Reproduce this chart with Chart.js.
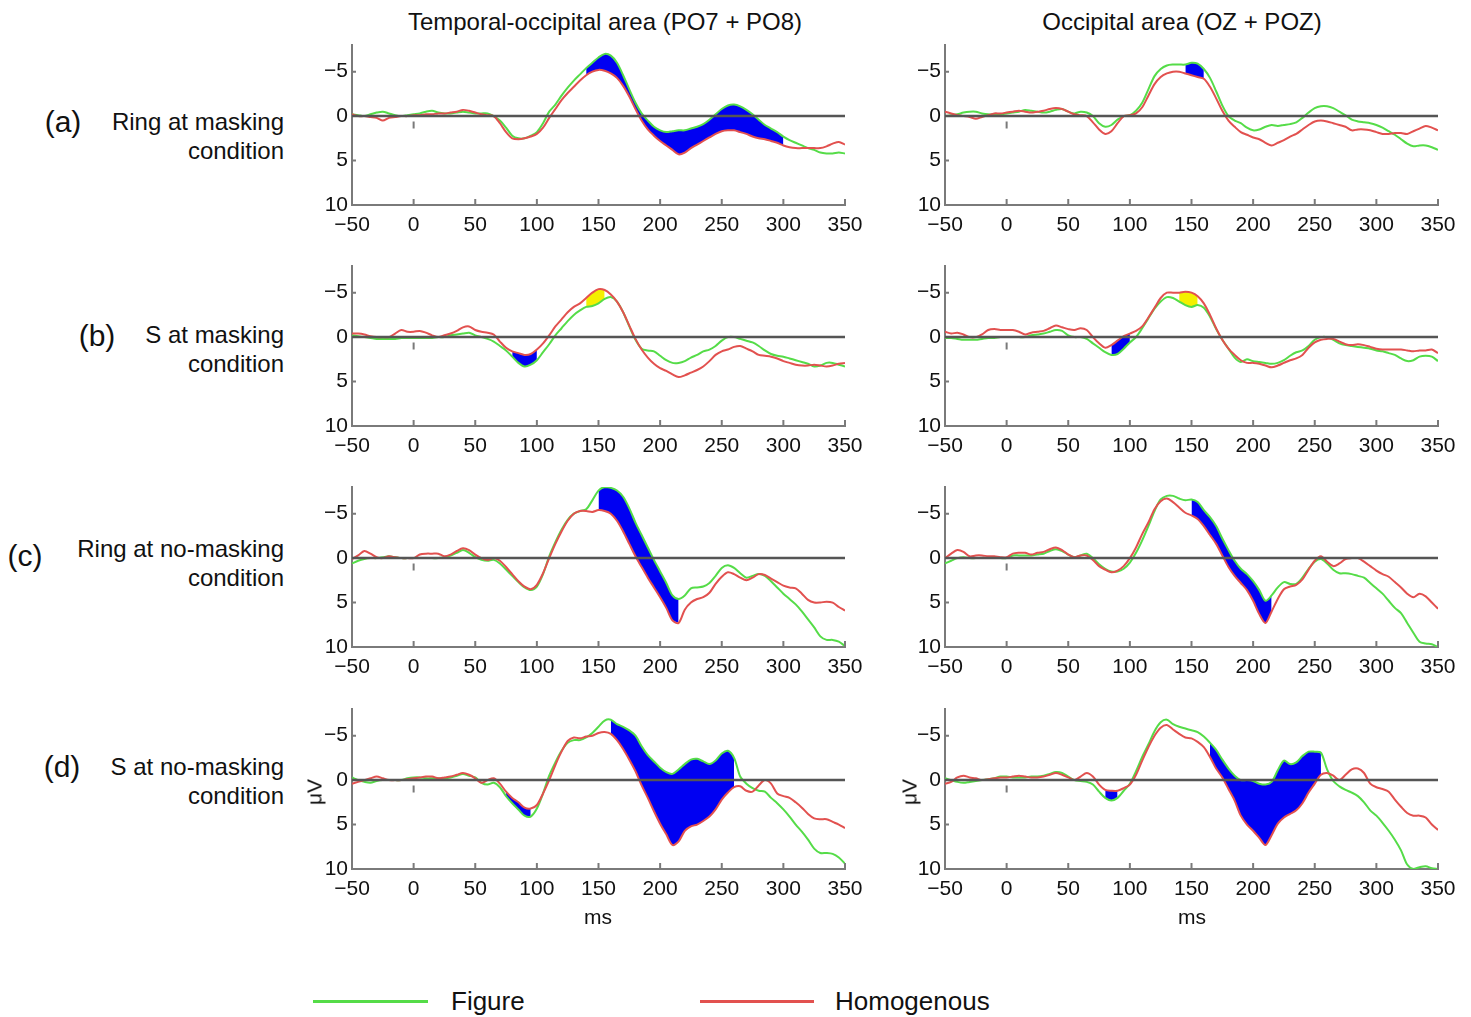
<!DOCTYPE html>
<html>
<head>
<meta charset="utf-8">
<script src="https://cdn.jsdelivr.net/npm/chart.js@4.4.1/dist/chart.umd.min.js"></script>
<style>
  body { margin: 0; background: #fff; }
  #fig { position: relative; width: 1471px; height: 1017px; background: #fff; overflow: hidden;
         font-family: "Liberation Sans", Arial, Helvetica, sans-serif; color: #111; }
  #fig canvas { position: absolute; }
  .txt { position: absolute; white-space: nowrap; line-height: 1; }
</style>
</head>
<body>
<div id="fig"></div>
<script>
// Eixo temporal (ms) e ticks
const timesMs = [-50,-45,-40,-35,-30,-25,-20,-15,-10,-5,0,5,10,15,20,25,30,35,40,45,
  50,55,60,65,70,75,80,85,90,95,100,105,110,115,120,125,130,135,140,145,
  150,155,160,165,170,175,180,185,190,195,200,205,210,215,220,225,230,235,240,245,
  250,255,260,265,270,275,280,285,290,295,300,305,310,315,320,325,330,335,340,345,350];
const xTicks = [-50, 0, 50, 100, 150, 200, 250, 300, 350];
const yTicks = [-5, 0, 5, 10];
const onsetMark = [0.6, 1.4];

// (a) Ring at masking condition
const aLeftFig = [-0.2,-0.1,0,-0.2,-0.4,-0.5,-0.3,-0.1,0,-0.1,
  -0.2,-0.3,-0.5,-0.6,-0.4,-0.3,-0.3,-0.4,-0.5,-0.4,
  -0.3,-0.3,-0.3,0,0.5,1.3,2.2,2.5,2.5,2.2,
  1.8,0.8,-0.5,-1.3,-2.3,-3.2,-4.0,-4.7,-5.4,-6.0,
  -6.6,-7.0,-6.8,-6.0,-4.6,-3.0,-1.5,-0.3,0.5,1.2,
  1.6,1.8,1.7,1.6,1.6,1.4,1.2,0.9,0.4,-0.2,
  -0.8,-1.2,-1.3,-1.1,-0.7,-0.2,0.4,1.0,1.4,1.8,
  2.3,2.7,3.0,3.3,3.6,3.8,4.1,4.2,4.2,4.1,
  4.2];
const aLeftHom = [-0.2,0,0,0.1,0.2,0.5,0.2,0.1,0,0,
  -0.1,-0.1,-0.2,-0.2,-0.3,-0.3,-0.4,-0.5,-0.7,-0.6,
  -0.4,-0.2,-0.1,0,0.8,1.8,2.5,2.6,2.5,2.3,
  2.0,1.3,0.2,-0.8,-1.8,-2.6,-3.3,-4.0,-4.6,-5.0,
  -5.2,-5.1,-4.8,-4.3,-3.4,-2.2,-0.8,0.5,1.5,2.2,
  2.8,3.3,3.8,4.3,4.1,3.6,3.2,2.8,2.4,2.0,
  1.7,1.6,1.6,1.8,2.0,2.3,2.5,2.6,2.8,3.0,
  3.3,3.5,3.6,3.6,3.6,3.6,3.6,3.4,3.1,2.9,
  3.2];
const aRightFig = [0,-0.1,-0.2,-0.4,-0.5,-0.5,-0.3,-0.2,-0.2,-0.2,
  -0.3,-0.4,-0.5,-0.7,-0.6,-0.5,-0.4,-0.5,-0.7,-0.8,
  -0.5,-0.3,-0.5,-0.4,0,0.8,1.2,1.0,0.4,0,
  -0.1,-0.6,-1.5,-3.0,-4.5,-5.3,-5.7,-5.8,-5.8,-5.8,
  -6.0,-5.9,-5.3,-4.3,-2.8,-1.2,0,0.5,0.8,1.3,
  1.6,1.5,1.2,1.0,1.1,1.0,0.9,0.7,0.2,-0.4,
  -0.9,-1.1,-1.1,-0.9,-0.5,-0.1,0.4,0.6,0.7,0.8,
  1.0,1.3,1.7,2.1,2.6,3.1,3.4,3.3,3.3,3.5,
  3.8];
const aRightHom = [-0.5,-0.3,-0.1,0,0.1,0.3,0.1,-0.1,-0.3,-0.3,
  -0.4,-0.5,-0.6,-0.5,-0.4,-0.5,-0.6,-0.8,-0.9,-0.8,
  -0.5,-0.2,-0.1,0,0.7,1.5,2.0,1.7,0.8,0,
  -0.1,-0.3,-1.0,-2.3,-3.6,-4.4,-4.8,-5.0,-5.0,-4.8,
  -4.6,-4.4,-4.2,-3.3,-2.0,-0.6,0.5,1.2,1.8,2.1,
  2.4,2.6,3.0,3.3,3.0,2.7,2.3,2.0,1.5,1.0,
  0.6,0.5,0.6,0.8,1.0,1.2,1.6,1.5,1.5,1.6,
  1.8,2.0,2.0,1.9,1.9,2.0,1.7,1.4,1.1,1.3,
  1.6];

// (b) S at masking condition
const bLeftFig = [-0.2,-0.1,0,0.1,0.2,0.2,0.2,0.2,0.1,0.1,
  0.1,0.1,0.1,0.1,0,0,-0.2,-0.3,-0.4,-0.5,
  -0.2,0,0.2,0.5,1.0,1.5,2.2,2.9,3.3,3.1,
  2.6,1.7,0.8,-0.2,-1.0,-1.8,-2.5,-3.0,-3.4,-3.5,
  -3.8,-4.3,-4.5,-4.0,-2.8,-1.2,0.3,1.3,1.5,1.6,
  2.1,2.6,2.9,2.9,2.7,2.3,2.0,1.6,1.4,1.0,
  0.4,0,0,0.2,0.4,0.6,1.0,1.5,1.9,2.1,
  2.2,2.4,2.6,2.8,3.0,3.3,3.2,2.9,2.9,3.1,
  3.3];
const bLeftHom = [-0.4,-0.4,-0.3,-0.1,0,0,0,-0.4,-0.8,-0.6,
  -0.6,-0.7,-0.5,-0.2,0,-0.2,-0.4,-0.7,-1.1,-1.2,
  -0.8,-0.6,-0.5,-0.3,0.5,1.2,1.6,1.8,2.0,1.9,
  1.4,0.7,-0.2,-1.2,-2.0,-2.8,-3.4,-3.8,-4.4,-5.0,
  -5.4,-5.3,-4.8,-4.0,-2.8,-1.3,0.2,1.4,2.3,3.0,
  3.5,3.8,4.2,4.5,4.3,4.0,3.7,3.3,2.7,2.0,
  1.6,1.4,1.1,1.0,1.3,1.6,2.0,2.1,2.2,2.4,
  2.7,2.9,3.1,3.2,3.2,3.1,3.2,3.3,3.2,3.0,
  2.9];
const bRightFig = [0.1,0.1,0.2,0.3,0.3,0.3,0.2,0.1,0.1,0,
  0,0,0,0,-0.2,-0.3,-0.4,-0.6,-0.8,-0.7,
  -0.2,0,0,0.2,0.7,1.2,1.7,2.0,1.9,1.3,
  0.6,0,-1.0,-2.1,-3.2,-4.0,-4.5,-4.4,-4.0,-3.6,
  -3.4,-3.6,-3.3,-2.3,-0.9,0.3,1.3,2.3,2.8,2.5,
  2.7,2.8,2.9,3.0,2.9,2.6,2.1,1.7,1.5,1.0,
  0.3,0,0,0.3,0.7,0.9,1.0,1.1,1.2,1.3,
  1.5,1.6,1.8,2.0,2.4,2.7,2.6,2.2,2.1,2.2,
  2.7];
const bRightHom = [-0.6,-0.4,-0.5,-0.3,0,0,-0.3,-0.8,-0.9,-0.8,
  -0.8,-0.8,-0.6,-0.3,-0.5,-0.6,-0.7,-1.0,-1.3,-1.1,
  -0.9,-0.8,-1.0,-0.8,0,0.7,1.2,0.9,0.4,-0.1,
  -0.4,-0.7,-1.2,-2.2,-3.3,-4.4,-5.0,-5.0,-5.0,-5.1,
  -5.0,-4.6,-3.8,-2.5,-1.0,0.3,1.3,2.0,2.6,2.9,
  2.9,3.0,3.2,3.4,3.2,2.9,2.6,2.4,2.0,1.2,
  0.6,0.3,0.2,0.2,0.5,0.8,0.9,0.8,0.9,1.1,
  1.3,1.4,1.4,1.4,1.4,1.5,1.6,1.5,1.5,1.4,
  1.8];

// (c) Ring at no-masking condition
const cLeftFig = [0.6,0.3,0.1,0,0,-0.1,-0.2,-0.1,0,0,
  0,0,0,0,0,-0.1,-0.3,-0.6,-0.9,-0.6,
  -0.1,0.2,0.3,0.2,0.6,1.3,2.0,2.7,3.3,3.6,
  3.2,1.8,-0.2,-1.8,-3.2,-4.3,-5.0,-5.3,-5.5,-6.5,
  -7.6,-8.0,-7.9,-7.6,-6.9,-5.6,-4.0,-2.6,-1.2,0.2,
  1.5,2.8,4.2,4.6,4.2,3.4,3.3,3.2,2.8,2.0,
  1.1,0.8,1.1,1.7,2.2,2.0,1.8,2.0,2.6,3.3,
  4.0,4.6,5.2,6.0,6.9,7.8,8.8,9.2,9.2,9.4,
  9.9];
const cLeftHom = [0.1,-0.3,-0.8,-0.5,-0.1,0,-0.2,-0.1,0,0,
  0,-0.4,-0.5,-0.5,-0.5,-0.2,-0.4,-0.8,-1.1,-0.9,
  -0.4,0,0.2,0,0.3,1.0,1.8,2.6,3.2,3.5,
  3.0,1.7,0,-1.6,-3.0,-4.2,-5.0,-5.3,-5.3,-5.2,
  -5.4,-5.3,-5.0,-4.2,-3.0,-1.6,-0.2,1.0,2.2,3.3,
  4.4,5.6,7.0,7.3,5.8,5.0,4.6,4.4,3.9,2.9,
  2.1,1.6,1.8,2.2,2.5,2.2,1.8,1.9,2.3,2.7,
  3.1,3.3,3.4,4.0,4.7,5.0,5.0,4.9,5.0,5.5,
  5.9];
const cRightFig = [0.6,0.3,0,-0.1,0,0,0,0,0,0,
  0,-0.3,-0.3,-0.3,-0.3,-0.4,-0.5,-0.8,-1.0,-0.8,
  -0.4,-0.1,-0.3,-0.5,0,0.7,1.2,1.5,1.5,1.2,
  0.5,-0.6,-2.0,-3.6,-5.3,-6.6,-7.0,-7.0,-6.7,-6.5,
  -6.6,-6.3,-5.4,-4.6,-3.6,-2.2,-0.9,0.3,1.2,1.8,
  2.6,3.6,4.8,4.2,3.3,2.7,2.9,2.9,2.2,1.2,
  0.4,0.1,0.6,1.3,1.7,1.7,1.8,2.0,2.2,2.8,
  3.4,4.0,4.8,5.6,6.2,7.3,8.4,9.4,9.6,9.7,
  10.0];
const cRightHom = [0,-0.5,-0.9,-0.7,-0.2,-0.3,-0.3,-0.2,-0.2,-0.1,
  -0.1,-0.5,-0.6,-0.6,-0.4,-0.6,-0.7,-1.0,-1.2,-0.9,
  -0.4,-0.1,-0.3,-0.3,0.2,0.9,1.3,1.6,1.4,0.9,
  0,-1.2,-2.7,-4.0,-5.5,-6.4,-6.7,-6.3,-5.7,-5.1,
  -4.8,-4.4,-3.6,-2.6,-1.6,-0.3,1.0,2.0,2.8,3.6,
  4.8,6.3,7.3,6.0,4.6,3.5,3.2,3.0,2.4,1.3,
  0.3,-0.2,0.4,0.9,0.6,0.1,0,0,0.4,0.9,
  1.4,1.8,2.1,2.7,3.3,4.0,4.4,4.0,4.3,5.0,
  5.7];

// (d) S at no-masking condition
const dLeftFig = [-0.3,0,0.2,0.3,0.1,0,0,0,0,-0.2,
  -0.3,-0.3,-0.2,-0.2,-0.2,-0.2,-0.3,-0.5,-0.7,-0.5,
  -0.3,0.3,0.5,0.3,0.8,1.8,2.6,3.3,4.0,4.1,
  3.2,1.5,-0.5,-2.0,-3.3,-4.2,-4.5,-4.5,-4.8,-5.3,
  -6.0,-6.7,-6.8,-6.3,-6.0,-5.6,-5.0,-3.8,-2.8,-2.1,
  -1.4,-0.9,-0.7,-1.2,-1.8,-2.3,-2.4,-2.1,-1.8,-2.2,
  -3.0,-3.3,-2.5,-0.4,0.4,0.9,1.2,1.3,2.0,2.6,
  3.3,4.1,5.0,5.8,6.7,7.7,8.2,8.2,8.3,8.7,
  9.4];
const dLeftHom = [0.4,0.2,0,-0.2,-0.4,-0.2,0,0,0,-0.1,
  -0.2,-0.3,-0.4,-0.4,-0.2,-0.3,-0.4,-0.6,-0.8,-0.6,
  -0.2,0.3,0,-0.2,0.4,1.3,2.0,2.5,3.1,3.2,
  2.8,1.5,0,-1.7,-3.2,-4.4,-4.8,-4.7,-4.9,-5.0,
  -5.3,-5.4,-5.2,-4.5,-3.5,-2.3,-1.0,0.6,2.0,3.5,
  4.9,6.1,7.3,6.9,5.7,5.2,5.0,4.6,4.1,3.3,
  2.2,1.4,0.8,0.7,1.2,1.3,0.6,0,0.4,1.5,
  1.8,2.0,2.5,3.1,3.8,4.3,4.4,4.4,4.7,5.0,
  5.4];
const dRightFig = [-0.2,0,0.2,0.3,0.2,0.1,0,-0.1,-0.2,-0.4,
  -0.4,-0.3,-0.3,-0.3,-0.4,-0.4,-0.5,-0.7,-0.9,-0.8,
  -0.4,0,0.1,0.2,0.5,1.3,2.0,2.3,2.0,1.2,
  0.4,-1.0,-2.6,-4.0,-5.5,-6.5,-6.8,-6.3,-6.0,-5.8,
  -5.6,-5.4,-4.9,-4.2,-3.4,-2.3,-1.3,-0.5,0,0,
  0.1,0.4,0.5,0.2,-1.1,-2.2,-1.8,-2.0,-2.7,-3.2,
  -3.2,-3.1,-1.2,0.1,0.7,1.1,1.4,1.8,2.5,3.4,
  4.0,4.8,5.7,6.7,7.9,9.5,10,9.8,9.7,9.9,
  10];
const dRightHom = [0.4,0.2,-0.3,-0.5,-0.3,-0.2,0,-0.1,-0.2,-0.3,
  -0.3,-0.4,-0.5,-0.4,-0.3,-0.3,-0.4,-0.6,-0.8,-0.6,
  -0.3,0,-0.4,-0.8,-0.4,0.5,1.1,1.2,1.2,0.9,
  0.5,-0.6,-2.2,-3.7,-5.0,-5.9,-6.2,-5.7,-5.2,-4.8,
  -4.7,-4.3,-3.7,-2.6,-1.3,-0.3,1.0,2.3,4.0,5.0,
  5.7,6.5,7.3,6.2,4.9,4.2,3.8,3.4,2.6,1.4,
  0.4,-0.6,-0.8,-0.5,0,-0.6,-1.2,-1.3,-0.8,0.4,
  0.8,1.0,1.3,2.2,3.0,3.7,4.0,4.0,4.2,5.0,
  5.6];

// Janelas de diferença significativa [início, fim, tipo]
const aLeftSig = [[140, 300, 'pos']];
const aRightSig = [[145, 160, 'pos']];
const bLeftSig = [[80, 100, 'pos'], [140, 155, 'neg']];
const bRightSig = [[85, 100, 'pos'], [140, 155, 'neg']];
const cLeftSig = [[150, 215, 'pos']];
const cRightSig = [[150, 215, 'pos']];
const dLeftSig = [[75, 95, 'pos'], [160, 260, 'pos']];
const dRightSig = [[80, 90, 'pos'], [165, 255, 'pos']];

const columnTitles = ['Temporal-occipital area (PO7 + PO8)', 'Occipital area (OZ + POZ)'];
const rowLetters = ['(a)', '(b)', '(c)', '(d)'];
const rowNames = [['Ring at masking', 'condition'], ['S at masking', 'condition'],
                  ['Ring at no-masking', 'condition'], ['S at no-masking', 'condition']];
const seriesNames = ['Figure', 'Homogenous'];

// Estilo e layout
const FONT = '"Liberation Sans", Arial, Helvetica, sans-serif';
const GREEN = '#55dc48';
const RED = '#e2514f';
const sigColors = { pos: '#0000f2', neg: '#f4f000' };
const colLeft = [352, 945];
const rowTop = [45, 266, 487, 709];
const plotW = 493, plotH = 160;
const padL = 60, padT = 8, padR = 25, padB = 50;

const fig = document.getElementById('fig');

function addText(text, x, y, size, align, extra) {
  const d = document.createElement('div');
  d.className = 'txt';
  d.textContent = text;
  d.style.left = x + 'px';
  d.style.top = y + 'px';
  d.style.fontSize = size + 'px';
  const tx = align === 'right' ? '-100%' : align === 'left' ? '0' : '-50%';
  d.style.transform = `translate(${tx}, -50%)` + (extra || '');
  fig.appendChild(d);
  return d;
}

function fmtTick(v) {
  return v < 0 ? '\u2212' + Math.abs(v) : String(v);
}

// Eixos no estilo MATLAB: ticks para dentro, linha do zero e marca do onset
const erpAxes = {
  id: 'erpAxes',
  afterDatasetsDraw(chart) {
    const { ctx, chartArea: a, scales: { x, y } } = chart;
    ctx.save();
    ctx.strokeStyle = '#7a7a7a';
    ctx.lineWidth = 2;
    ctx.beginPath();
    xTicks.forEach(v => {
      const px = x.getPixelForValue(v);
      ctx.moveTo(px, a.bottom);
      ctx.lineTo(px, a.bottom - 6);
    });
    yTicks.forEach(v => {
      const py = y.getPixelForValue(v);
      ctx.moveTo(a.left, py);
      ctx.lineTo(a.left + 4, py);
    });
    const xo = x.getPixelForValue(0);
    ctx.moveTo(xo, y.getPixelForValue(onsetMark[0]));
    ctx.lineTo(xo, y.getPixelForValue(onsetMark[1]));
    ctx.stroke();

    const y0 = y.getPixelForValue(0);
    ctx.strokeStyle = '#555';
    ctx.lineWidth = 2.5;
    ctx.beginPath();
    ctx.moveTo(a.left, y0);
    ctx.lineTo(a.right, y0);
    ctx.stroke();
    ctx.restore();
  }
};

function toPoints(values, from, to) {
  const pts = [];
  timesMs.forEach((t, i) => {
    if (t >= from && t <= to) pts.push({ x: t, y: values[i] });
  });
  return pts;
}

function makePanel(row, col, figData, homData, sig) {
  const canvas = document.createElement('canvas');
  const w = padL + plotW + padR, h = padT + plotH + padB;
  canvas.width = w;
  canvas.height = h;
  canvas.style.left = (colLeft[col] - padL) + 'px';
  canvas.style.top = (rowTop[row] - padT) + 'px';
  canvas.style.width = w + 'px';
  canvas.style.height = h + 'px';
  fig.appendChild(canvas);

  const datasets = [
    { data: toPoints(homData, -50, 350), borderColor: RED, order: 0 },
    { data: toPoints(figData, -50, 350), borderColor: GREEN, order: 1 }
  ];
  sig.forEach(([from, to, kind]) => {
    datasets.push({
      data: toPoints(figData, from, to), borderWidth: 0, borderColor: 'rgba(0,0,0,0)',
      backgroundColor: sigColors[kind], fill: '+1', order: 5
    });
    datasets.push({
      data: toPoints(homData, from, to), borderWidth: 0, borderColor: 'rgba(0,0,0,0)',
      fill: false, order: 5
    });
  });

  new Chart(canvas, {
    type: 'line',
    data: { datasets },
    options: {
      responsive: false,
      animation: false,
      devicePixelRatio: 1,
      layout: { padding: { top: padT, right: padR, left: 0, bottom: 0 } },
      plugins: { legend: { display: false }, tooltip: { enabled: false } },
      elements: {
        point: { radius: 0 },
        line: { borderWidth: 2, tension: 0.3 }
      },
      scales: {
        x: {
          type: 'linear', min: -50, max: 350,
          afterBuildTicks: s => { s.ticks = xTicks.map(v => ({ value: v })); },
          afterFit: s => { s.height = padB; s.paddingLeft = 0; s.paddingRight = 0; },
          grid: { drawOnChartArea: false, drawTicks: false },
          border: { color: '#7a7a7a', width: 2 },
          ticks: { color: '#111', font: { family: FONT, size: 21 }, padding: 8,
                   maxRotation: 0, autoSkip: false, callback: fmtTick }
        },
        y: {
          type: 'linear', min: -8, max: 10, reverse: true,
          afterBuildTicks: s => { s.ticks = yTicks.map(v => ({ value: v })); },
          afterFit: s => { s.width = padL; s.paddingTop = 0; s.paddingBottom = 0; },
          grid: { drawOnChartArea: false, drawTicks: false },
          border: { color: '#7a7a7a', width: 2 },
          ticks: { color: '#111', font: { family: FONT, size: 21 }, padding: 4, callback: fmtTick }
        }
      }
    },
    plugins: [erpAxes]
  });
}

const panelData = [
  [aLeftFig, aLeftHom, aLeftSig, aRightFig, aRightHom, aRightSig],
  [bLeftFig, bLeftHom, bLeftSig, bRightFig, bRightHom, bRightSig],
  [cLeftFig, cLeftHom, cLeftSig, cRightFig, cRightHom, cRightSig],
  [dLeftFig, dLeftHom, dLeftSig, dRightFig, dRightHom, dRightSig]
];
panelData.forEach((p, r) => {
  makePanel(r, 0, p[0], p[1], p[2]);
  makePanel(r, 1, p[3], p[4], p[5]);
});

// Textos
addText(columnTitles[0], 605, 22, 24);
addText(columnTitles[1], 1182, 22, 24);

const letterPos = [[63, 122], [97, 336], [25, 556], [62, 767]];
const namePos = [[122, 151], [335, 364], [549, 578], [767, 796]];
rowLetters.forEach((l, i) => {
  addText(l, letterPos[i][0], letterPos[i][1], 30);
  addText(rowNames[i][0], 284, namePos[i][0], 24, 'right');
  addText(rowNames[i][1], 284, namePos[i][1], 24, 'right');
});

addText('\u03bcV', 314, 792, 21, 'center', ' rotate(-90deg)');
addText('\u03bcV', 909, 792, 21, 'center', ' rotate(-90deg)');
addText('ms', 598, 916, 21);
addText('ms', 1192, 916, 21);

// Legenda
function legendLine(x1, x2, y, color) {
  const d = document.createElement('div');
  d.style.position = 'absolute';
  d.style.left = x1 + 'px';
  d.style.top = (y - 1.5) + 'px';
  d.style.width = (x2 - x1) + 'px';
  d.style.height = '3px';
  d.style.background = color;
  fig.appendChild(d);
}
legendLine(313, 428, 1001, GREEN);
addText(seriesNames[0], 451, 1001, 26, 'left');
legendLine(700, 814, 1001, RED);
addText(seriesNames[1], 835, 1001, 26, 'left');
</script>
</body>
</html>
